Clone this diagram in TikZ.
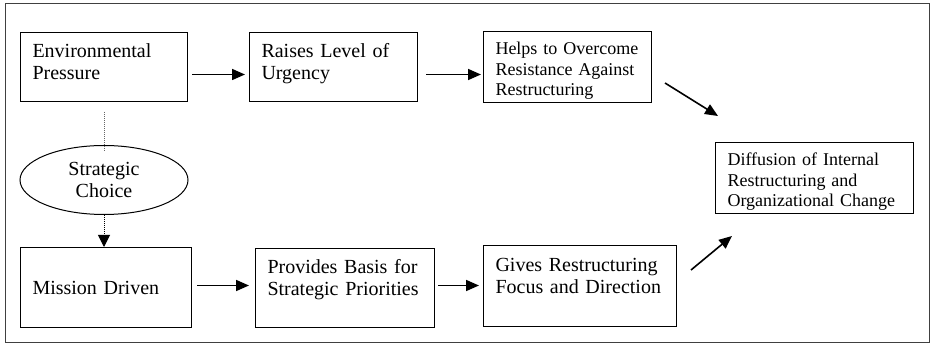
\documentclass[tikz,border=0pt]{standalone}
\usepackage{fontspec}
\setmainfont{Liberation Serif}
\usetikzlibrary{arrows.meta,shapes.geometric}

\begin{document}
\begin{tikzpicture}[x=1pt, y=-1pt,
    box/.style={draw, line width=1pt, anchor=north west, align=left, inner xsep=12pt, inner ysep=6pt, font=\fontsize{20}{22.5}\selectfont},
    smallbox/.style={box, font=\fontsize{18}{20.5}\selectfont},
    arr/.style={-{Triangle[length=13pt, width=11pt]}, line width=1.6pt},
    dots/.style={line width=1pt, dash pattern=on 1pt off 1pt, gray!80!black}]
    \useasboundingbox (0,0) rectangle (931,344);
    \draw[line width=1pt, black!75] (5,4) rectangle (929,342);
    % upper row
    \node[box, text width=143pt, text height=19pt, text depth=38pt] (env) at (20,32) {Environmental\\Pressure};
    \node[box, text width=144pt, text height=19pt, text depth=38pt] (urg) at (249,32) {Raises Level of\\Urgency};
    \node[smallbox, text width=144pt, text height=17.5pt, text depth=41.5pt] (res) at (483,31) {Helps to Overcome\\Resistance Against\\Restructuring};
    % result
    \node[smallbox, text width=174pt, text height=17.5pt, text depth=41.5pt] (dif) at (715,142) {Diffusion of Internal\\Restructuring and\\Organizational Change};
    % lower row
    \node[box, text width=147pt, minimum height=80pt] (mis) at (20,247) {Mission Driven};
    \node[box, text width=155pt, text height=19pt, text depth=48pt] (bas) at (255,248) {Provides Basis for\\Strategic Priorities};
    \node[box, text width=169pt, text height=20pt, text depth=49pt] (foc) at (483,245) {Gives Restructuring\\Focus and Direction};
    \node[ellipse, draw, line width=1pt, minimum width=168pt, minimum height=69pt, inner sep=0pt, align=center, font=\fontsize{20}{22.5}\selectfont] (sc) at (104,180) {Strategic\\Choice};
    % connectors
    \draw[arr, shorten <=4pt, shorten >=4pt] ([yshift=-7.5pt]env.east) -- ([yshift=-7.5pt]env.east -| urg.west);
    \draw[arr, shorten <=8pt, shorten >=2pt] ([yshift=-7.5pt]urg.east) -- ([yshift=-7.5pt]urg.east -| res.west);
    \draw[arr, shorten <=5pt, shorten >=6pt] ([yshift=2pt]mis.east) -- ([yshift=2pt]mis.east -| bas.west);
    \draw[arr, shorten <=3pt, shorten >=4pt] ([yshift=2pt]mis.east -| bas.east) -- ([yshift=2pt]mis.east -| foc.west);
    \coordinate (r1) at (665,83); \coordinate (r2) at (718,116);
    \coordinate (f1) at (691,270); \coordinate (f2) at (732,236);
    \draw[arr] (r1) -- (r2);
    \draw[arr] (f1) -- (f2);
    \draw[dots, shorten <=10pt, shorten >=-7pt] (env.south) -- (sc.north);
    \draw[dots, -{Triangle[length=12pt, width=12pt]}, black] (sc.south) -- (sc.south |- mis.north);
\end{tikzpicture}
\end{document}
